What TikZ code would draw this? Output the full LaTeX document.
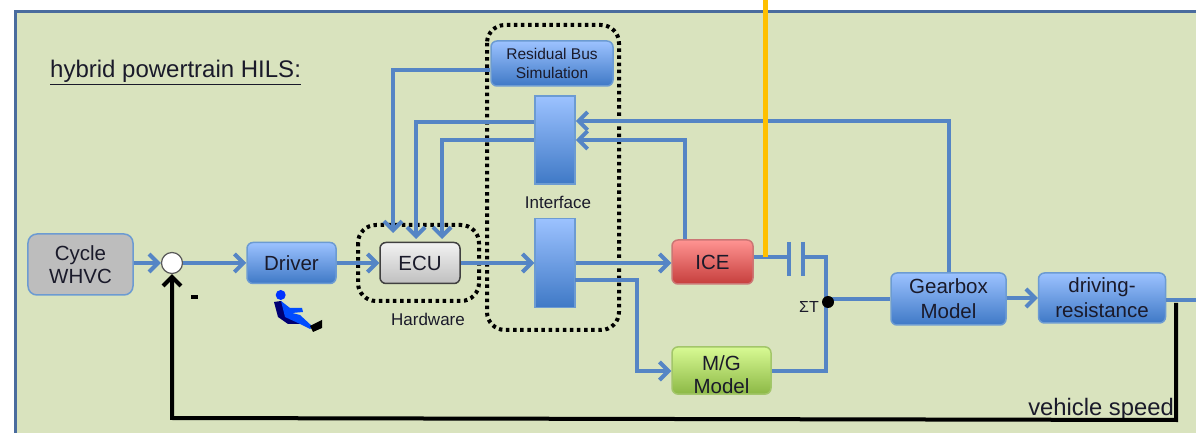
\documentclass[tikz,border=0pt]{standalone}
\usepackage{fontspec}
\setmainfont{Liberation Sans}
\usetikzlibrary{arrows.meta,calc}
\definecolor{framec}{HTML}{4A6C9E}
\definecolor{bg}{HTML}{D9E3BE}
\definecolor{wire}{HTML}{5585C5}
\definecolor{edgeb}{HTML}{6C9BD2}
\definecolor{txt}{HTML}{1A1A2A}
\definecolor{bt}{HTML}{9CC2FF}
\definecolor{bb}{HTML}{3F79C6}
\definecolor{rt}{HTML}{FF9492}
\definecolor{rb}{HTML}{C63E3C}
\definecolor{gt}{HTML}{D8FA94}
\definecolor{gb}{HTML}{8CB845}
\definecolor{yel}{HTML}{FFC000}
\tikzset{
  x=1bp,y=-1bp,
  box/.style={rounded corners=6bp,line width=1.5bp,inner sep=0pt,align=center,text=txt,font=\fontsize{20.5bp}{25bp}\selectfont},
  bluebox/.style={box,draw=edgeb,top color=bt,bottom color=bb},
  wirel/.style={draw=wire,line width=4bp},
  arr/.style={wirel,-{Straight Barb[length=9bp,width=18bp]}},
  dots/.style={draw=black,line width=4bp,dash pattern=on 3.5bp off 3.6bp,rounded corners=18bp},
  lab/.style={text=txt,inner sep=0pt},
}
\begin{document}
\begin{tikzpicture}
\useasboundingbox (0,0) rectangle (1196,433);
\fill[white] (0,0) rectangle (1196,433);
\fill[bg] (15,12) rectangle (1196,433);
\draw[framec,line width=3bp] (15,433) -- (15,12) -- (1196,12);

\node[lab,anchor=base west,font=\fontsize{24bp}{28bp}\selectfont] (title) at (50,78) {\underline{hybrid powertrain HILS:}};

\node[box,draw=edgeb,fill=black!26,rounded corners=9bp,minimum width=105bp,minimum height=61bp] (cycle) at (80.5,264.5) {Cycle\\[-2pt]WHVC};
\node[bluebox,minimum width=89bp,minimum height=41bp] (driver) at (291.5,263) {Driver};
\node[circle,draw=black!65,line width=1.2bp,fill=white,minimum size=21bp,inner sep=0pt] (sum) at (172,263) {};
\node[box,draw=black!75,top color=white!95!black,bottom color=black!25,minimum width=80bp,minimum height=41bp] (ecu) at (420,263) {ECU};
\node[bluebox,font=\fontsize{15.5bp}{18.5bp}\selectfont,minimum width=122bp,minimum height=45bp] (resid) at (552,63.5) {Residual Bus\\Simulation};
\node[bluebox,rounded corners=0pt,minimum width=40bp,minimum height=88bp] (ifup) at (555,140) {};
\node[bluebox,rounded corners=0pt,minimum width=40bp,minimum height=89bp] (iflo) at (555,263) {};
\node[box,draw=rt!80!black,top color=rt,bottom color=rb,minimum width=81bp,minimum height=44bp] (ice) at (712.5,262) {ICE};
\node[box,draw=gb!80!white,top color=gt,bottom color=gb,minimum width=99bp,minimum height=45bp] (mg) at (721.5,370.5) {\rule{0pt}{24bp}M/G\\[-2pt]Model};
\node[bluebox,minimum width=115bp,minimum height=52bp] (gear) at (948.5,299) {Gearbox\\Model};
\node[bluebox,minimum width=127bp,minimum height=50bp] (res) at (1102,298) {driving-\\resistance};

\draw[dots] (358,225) rectangle (479,301);
\draw[dots] (487,25) rectangle (619,330);

\node[lab,font=\fontsize{17bp}{20bp}\selectfont] (hw) at (428,319.5) {Hardware};
\node[lab,font=\fontsize{17bp}{20bp}\selectfont] (ifl) at (558,202.5) {Interface};
\node[lab,font=\fontsize{16bp}{18bp}\selectfont] (st) at (809,307) {ΣT};
\node[lab,anchor=base east,font=\fontsize{23.8bp}{26bp}\selectfont] (vs) at (1174,416) {vehicle speed};
\node[fill=black,minimum width=7bp,minimum height=4bp,inner sep=0pt] (minus) at (194.5,297) {};

% blue connectors
\draw[arr] (cycle.east |- sum) -- (sum.west);
\draw[arr] (sum.east) -- (driver.west);
\draw[arr] (driver.east) -- (ecu.west);
\draw[arr] (ecu.east) -- (iflo.west);
\draw[arr] (iflo.east) -- (iflo.east -| ice.west);
\coordinate (m1) at (575,280);
\draw[arr] (m1) -- (637,280) -- (637,371) -- (mg.west |- 0,371);
\coordinate (e1) at (393,233);
\coordinate (e2) at (416,239);
\coordinate (e3) at (442,239);
\draw[arr] (resid.west |- 0,70) -- (393,70) -- (e1);
\draw[arr] (ifup.west |- 0,122) -- (416,122) -- (e2);
\draw[arr] (ifup.west |- 0,140) -- (442,140) -- (e3);
\draw[arr] (gear.north) -- (948.5,121) -- (ifup.east |- 0,121);
\coordinate (icet) at (685,239);
\draw[arr] (icet) -- (685,140) -- (ifup.east |- 0,140);

% clutch
\coordinate (c1) at (789,257);
\coordinate (c2) at (803,257);
\coordinate (sumt) at (828,302);
\draw[wirel] (ice.east |- c1) -- (c1);
\draw[wirel] (789,242) -- (789,276);
\draw[wirel] (803,242) -- (803,276);
\draw[wirel] (c2) -- (826,257) -- (826,371) -- (mg.east |- 0,371);
\draw[wirel] (826,299) -- (gear.west |- 0,299);
\draw[arr] (gear.east |- 0,298) -- (res.west |- 0,298);
\coordinate (out) at (1196,300);
\draw[wirel] (res.east |- out) -- (out);
\fill (sumt) circle (6bp);
\draw[draw=yel,line width=5bp] (765,0) -- (765,257);

% feedback
\coordinate (fb) at (1176,303);
\draw[black,line width=4bp,-{Straight Barb[length=9bp,width=18bp]}] (fb) -- (1176,420) -- (172,418) -- (sum.south);

% driver icon
\fill[blue!45!black] (274,302) -- (278,317) -- (288,324) -- (300,324) -- (303,320) -- (292,316) -- (285,306) -- (281,301) -- cycle;
\fill[blue!80!cyan] (280.7,295) circle (5bp);
\fill[blue!70!cyan] (281,301) -- (290,308) -- (302,308) -- (303,312) -- (292,313) -- (300,315) -- (313,327) -- (310,329) -- (298,323) -- (285,317) -- (282,305) -- cycle;
\fill[black] (322,320) -- (322,328) -- (313,332) -- (310,326) -- cycle;
\end{tikzpicture}
\end{document}
